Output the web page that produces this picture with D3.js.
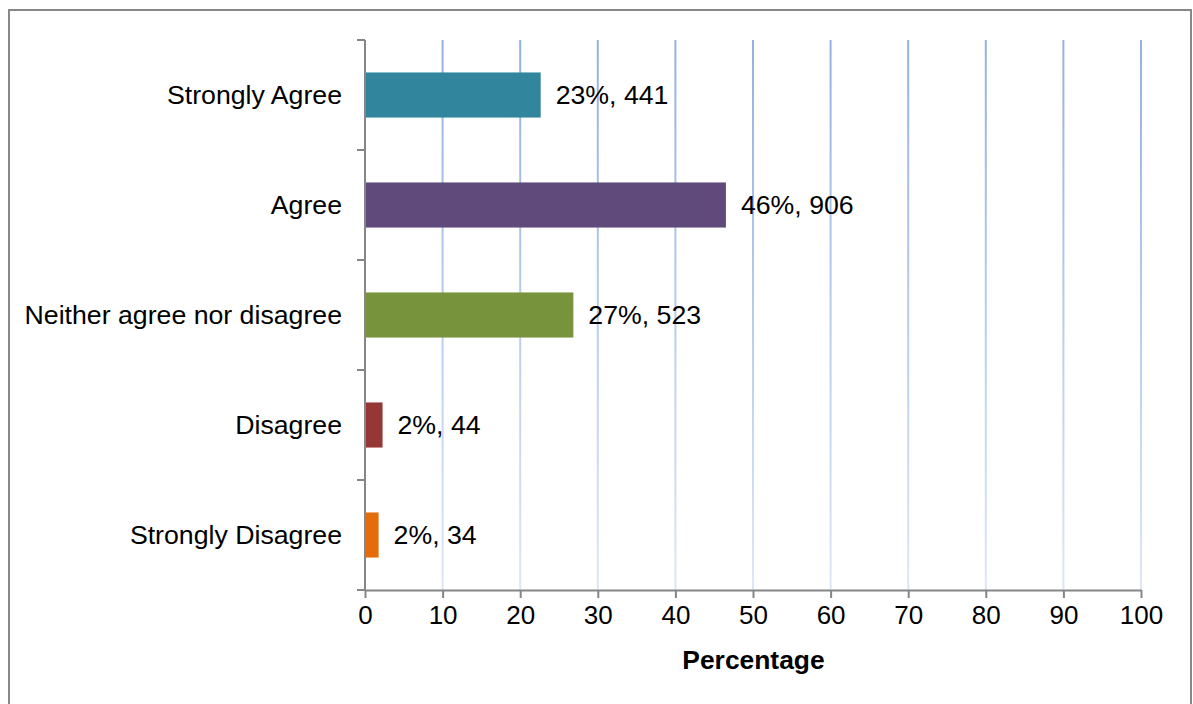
<!DOCTYPE html>
<html>
<head>
<meta charset="utf-8">
<script src="https://cdn.jsdelivr.net/npm/d3@7"></script>
<style>
  html, body { margin: 0; padding: 0; background: #fff; }
  svg { display: block; font-family: "Liberation Sans", Arial, Helvetica, sans-serif; }
</style>
</head>
<body>
<svg id="chart" width="1193" height="704"></svg>
<script>
const categories = ["Strongly Agree", "Agree", "Neither agree nor disagree", "Disagree", "Strongly Disagree"];
const percentages = [22.64, 46.51, 26.85, 2.26, 1.75];
const counts = [441, 906, 523, 44, 34];
const valueLabels = ["23%, 441", "46%, 906", "27%, 523", "2%, 44", "2%, 34"];
const barColors = ["#31859C", "#604A7B", "#77933C", "#953735", "#E46C0A"];
const xTicks = [0, 10, 20, 30, 40, 50, 60, 70, 80, 90, 100];
const xTitle = "Percentage";

(function () {
const svg = d3.select("#chart");
const pL = 365, pR = 1141, pT = 40, pB = 590;

// frame
svg.append("rect").attr("x", 9).attr("y", 10).attr("width", 1182).attr("height", 720)
  .attr("fill", "#fff").attr("stroke", "#888").attr("stroke-width", 2);

const x = d3.scaleLinear().domain([0, 100]).range([pL, pR]);
const y = d3.scaleBand().domain(categories).range([pT, pB]).paddingInner(0.59).paddingOuter(0.295);
const yEdge = d3.scaleLinear().domain([0, categories.length]).range([pT, pB]);

// gradient for gridlines
const defs = svg.append("defs");
const grad = defs.append("linearGradient").attr("id", "gridGrad")
  .attr("gradientUnits", "userSpaceOnUse").attr("x1", 0).attr("x2", 0).attr("y1", pT).attr("y2", pB);
grad.append("stop").attr("offset", "0%").attr("stop-color", "#93b1e2");
grad.append("stop").attr("offset", "100%").attr("stop-color", "#dde7f6");

svg.append("g").selectAll("line").data(xTicks.filter(d => d > 0)).join("line")
  .attr("x1", d => x(d)).attr("x2", d => x(d)).attr("y1", pT).attr("y2", pB)
  .attr("stroke", "url(#gridGrad)").attr("stroke-width", 2);

// bars
svg.append("g").selectAll("rect").data(categories).join("rect")
  .attr("x", x(0)).attr("y", d => y(d))
  .attr("width", (d, i) => x(percentages[i]) - x(0))
  .attr("height", y.bandwidth())
  .attr("fill", (d, i) => barColors[i]);

// value labels
svg.append("g").selectAll("text").data(categories).join("text")
  .attr("x", (d, i) => x(percentages[i]) + 15)
  .attr("y", d => y(d) + y.bandwidth() / 2)
  .attr("dy", "0.35em")
  .attr("font-size", 26.7).attr("fill", "#000")
  .text((d, i) => valueLabels[i]);

// y axis
const axisColor = "#868686";
svg.append("line").attr("x1", pL).attr("x2", pL).attr("y1", pT).attr("y2", pB)
  .attr("stroke", axisColor).attr("stroke-width", 2);
svg.append("g").selectAll("line").data(d3.range(categories.length + 1)).join("line")
  .attr("x1", pL - 8).attr("x2", pL).attr("y1", d => yEdge(d)).attr("y2", d => yEdge(d))
  .attr("stroke", axisColor).attr("stroke-width", 2);
svg.append("g").selectAll("text").data(categories).join("text")
  .attr("x", pL - 23).attr("y", d => y(d) + y.bandwidth() / 2).attr("dy", "0.35em")
  .attr("text-anchor", "end").attr("font-size", 26.7).attr("fill", "#000")
  .text(d => d);

// x axis
const xAxis = d3.axisBottom(x).tickValues(xTicks).tickSize(8).tickSizeOuter(0).tickPadding(8);
const gx = svg.append("g").attr("transform", `translate(0,${pB})`).call(xAxis);
gx.select(".domain").attr("stroke", axisColor).attr("stroke-width", 2);
gx.selectAll(".tick line").attr("stroke", axisColor).attr("stroke-width", 2);
gx.selectAll(".tick text").attr("font-size", 26).attr("fill", "#000")
  .attr("font-family", "Liberation Sans, Arial, sans-serif");

svg.append("text").attr("x", (pL + pR) / 2 + 0.5).attr("y", 669)
  .attr("text-anchor", "middle").attr("font-size", 26.4).attr("font-weight", "bold").attr("fill", "#000")
  .text(xTitle);
})();
</script>
</body>
</html>
